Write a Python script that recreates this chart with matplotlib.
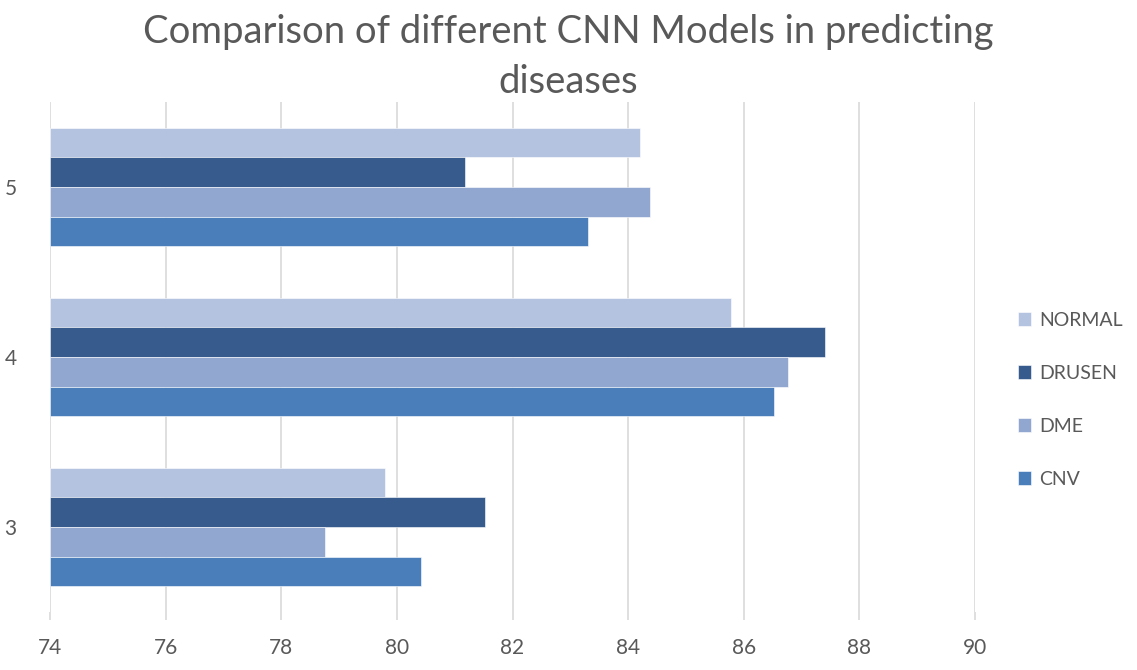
import matplotlib
matplotlib.use("Agg")
import matplotlib.pyplot as plt
import numpy as np

categories = ["3", "4", "5"]
series_names = ["NORMAL", "DRUSEN", "DME", "CNV"]
normal = [79.79, 85.78, 84.21]
drusen = [81.53, 87.41, 81.17]
dme = [78.75, 86.77, 84.38]
cnv = [80.42, 86.53, 83.31]
x_ticks = [74, 76, 78, 80, 82, 84, 86, 88, 90]

colors = ["#B4C3DF", "#375B8D", "#91A7D0", "#4A7EBB"]
values = [normal, drusen, dme, cnv]

plt.rcParams['font.family'] = ['Lato', 'DejaVu Sans']
fig = plt.figure(figsize=(11.37, 6.70), dpi=100)
ax = fig.add_axes([50/1137, 1-612/670, (975-50)/1137, (612-102)/670])

y = np.arange(len(categories))
h = 0.174
offsets = [1.5*h, 0.5*h, -0.5*h, -1.5*h]
for vals, c, off, name in zip(values, colors, offsets, series_names):
    ax.barh(y + off, np.array(vals) - 74, left=74, height=h, color=c,
            edgecolor="white", linewidth=0.4, label=name, zorder=3)

ax.set_xlim(74, 90)
ax.set_ylim(-0.5, 2.5)
ax.set_xticks(x_ticks)
ax.set_xticklabels([str(t) for t in x_ticks])
ax.set_yticks(y)
ax.set_yticklabels(categories)
ax.grid(axis="x", color="#D9D9D9", linewidth=1.2, zorder=0)
for s in ax.spines.values():
    s.set_visible(False)
ax.tick_params(axis="x", length=6, color="#D9D9D9", width=1.2, labelsize=15,
               labelcolor="#595959", pad=13)
ax.tick_params(axis="y", length=0, labelsize=15, labelcolor="#595959", pad=24)

fig.text(0.5, 1-32/670, "Comparison of different CNN Models in predicting",
         ha="center", va="center", fontsize=27.5, color="#595959")
fig.text(0.5, 1-82/670, "diseases", ha="center", va="center",
         fontsize=27.5, color="#595959")

handles, labels = ax.get_legend_handles_labels()
leg = fig.legend(handles, labels, loc="center left",
                 bbox_to_anchor=(1000/1137, 1-400/670), frameon=False,
                 fontsize=14, handlelength=0.7, handleheight=0.7,
                 handletextpad=0.4, labelspacing=1.85)
for t in leg.get_texts():
    t.set_color("#595959")

fig.savefig("out.png", dpi=100)
